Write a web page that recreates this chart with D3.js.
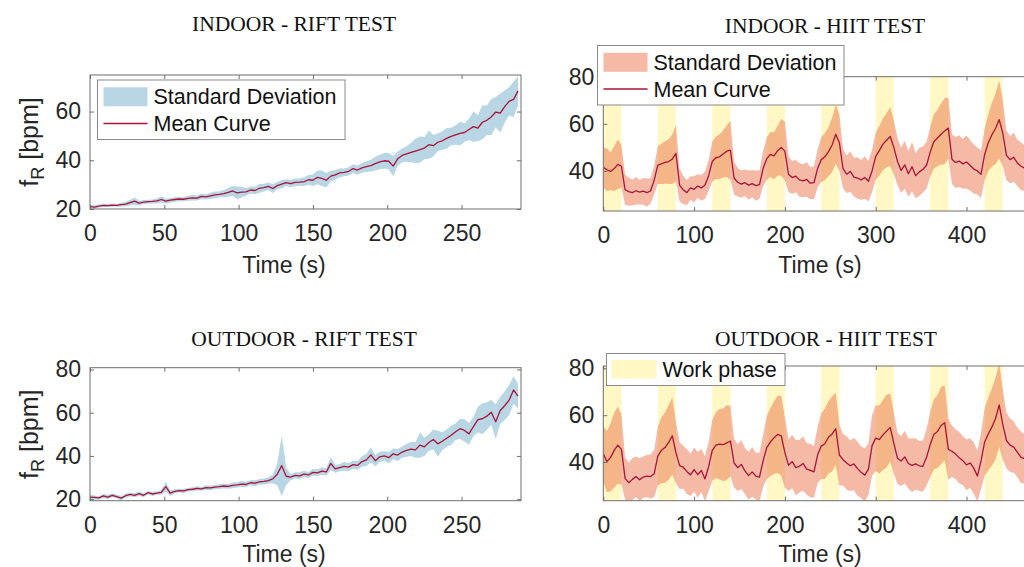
<!DOCTYPE html>
<html><head><meta charset="utf-8">
<script src="https://cdn.jsdelivr.net/npm/d3@7"></script>
<style>body{margin:0;background:#fff} svg{display:block}</style>
</head><body><svg id="chart" width="1024" height="567"></svg>
<script>
// ---------------- DATA ----------------
const titles = ["INDOOR - RIFT TEST", "INDOOR - HIIT TEST", "OUTDOOR - RIFT TEST", "OUTDOOR - HIIT TEST"];
const xLabel = "Time (s)";
const riftStep = 3;   // s between samples (rift)
const hiitStep = 4;   // s between samples (HIIT)

const riftXTicks = [0, 50, 100, 150, 200, 250];
const hiitXTicks = [0, 100, 200, 300, 400];
const indoorRiftYTicks = [20, 40, 60];
const outdoorRiftYTicks = [20, 40, 60, 80];
const hiitYTicks = [40, 60, 80];

const workPhases = [[0,20],[60,80],[120,140],[180,200],[240,260],[300,320],[360,380],[420,440]];

const indoorRiftMean = [
 21.0,20.8,21.2,21.5,21.4,21.6,21.5,21.8,22.0,22.6,
 23.2,22.4,22.8,23.0,23.1,23.3,23.9,23.2,23.6,23.9,
 24.1,24.0,24.4,24.6,24.5,25.2,25.0,25.4,25.8,26.0,
 26.3,26.8,27.4,26.6,26.9,27.0,27.8,27.6,28.5,28.8,
 29.3,28.4,29.6,30.2,30.8,30.4,30.9,31.0,31.2,32.0,
 31.8,33.0,32.6,31.8,33.5,34.0,34.8,35.0,35.4,36.6,
 36.0,36.9,37.4,37.8,38.6,39.3,39.8,39.6,37.6,40.6,
 42.0,42.6,43.2,43.8,44.4,45.0,46.4,46.0,47.4,48.0,
 49.0,49.8,50.4,51.0,51.4,52.6,53.8,53.2,55.6,56.4,
 57.8,59.8,59.4,62.0,64.2,65.0,68.5];
const indoorRiftSD = [
 0.8,0.7,0.6,0.7,0.6,0.7,0.6,0.8,0.9,1.2,
 1.5,1.0,0.9,0.8,0.8,1.0,1.3,1.0,0.9,0.9,
 0.9,0.8,1.0,1.1,1.0,1.2,1.1,1.3,1.4,1.2,
 1.5,1.8,2.0,2.6,2.2,1.6,1.4,1.5,1.8,1.6,
 1.6,1.8,1.5,1.7,1.4,1.5,1.6,1.5,1.8,2.0,
 2.4,2.8,3.2,3.0,2.2,2.0,1.8,1.6,1.7,1.8,
 1.9,2.0,2.2,2.4,2.8,3.0,3.2,3.4,4.2,3.0,
 2.8,3.2,4.0,5.0,5.4,4.6,5.8,4.4,3.6,3.8,
 4.2,3.6,4.0,4.8,3.8,4.4,6.2,5.4,7.0,6.0,
 7.4,6.2,8.0,6.6,5.8,7.2,6.0];

const outdoorRiftMean = [
 21.0,20.8,20.6,21.5,21.0,21.8,21.2,20.5,21.6,22.2,
 21.8,22.6,21.8,23.0,22.4,22.8,23.2,25.8,22.8,23.6,
 24.0,23.8,24.4,24.6,25.0,24.8,25.3,25.2,25.6,25.8,
 26.1,25.9,26.4,26.6,27.0,26.8,27.6,27.4,28.0,28.2,
 28.6,29.4,31.5,35.5,30.6,30.2,31.0,30.8,31.6,31.2,
 32.4,32.2,33.0,32.6,36.5,34.0,34.6,35.2,34.8,36.0,
 35.6,37.4,38.2,40.5,37.8,39.6,40.0,39.2,41.0,40.4,
 41.8,42.6,43.2,42.8,45.0,44.2,46.2,47.6,45.6,46.8,
 48.2,49.6,51.2,52.6,51.8,50.2,53.6,56.8,57.2,58.4,
 60.2,55.8,61.0,63.2,65.8,70.5,67.6];
const outdoorRiftSD = [
 1.2,0.9,0.8,0.9,1.0,0.9,0.8,1.0,0.9,0.8,
 0.9,1.0,0.9,0.8,0.9,0.8,1.0,2.4,1.2,0.9,
 0.8,0.9,0.8,0.9,1.0,0.9,1.0,1.1,1.0,1.1,
 1.2,1.1,1.3,1.2,1.4,1.3,1.2,1.4,1.3,1.4,
 1.5,2.0,5.0,14.0,4.0,1.5,1.4,1.6,1.5,1.4,
 1.6,1.5,1.7,1.8,3.0,1.8,1.7,2.0,1.8,1.9,
 2.0,2.4,2.8,3.5,2.6,2.4,2.2,2.6,2.4,2.8,
 2.6,3.0,3.2,3.6,5.8,4.2,3.8,4.6,6.0,4.2,
 4.0,4.4,3.8,4.6,5.2,5.0,4.4,6.0,7.2,6.4,
 5.8,8.0,6.2,6.6,7.0,6.4,5.8];

const indoorHiitMean = [
 41.5,40.5,39.8,41.0,42.8,42.0, 32.0,31.2,30.8,31.6,31.0,31.4,30.8,31.5,36.0,
 42.5,43.0,43.6,44.0,45.0,47.5, 34.0,32.0,30.8,32.8,32.2,33.6,32.8,34.0,38.0,
 44.0,45.6,46.0,47.2,48.4,48.8, 37.0,35.2,34.4,35.0,34.0,34.6,33.8,34.2,41.0,
 45.2,47.0,46.4,48.6,50.0,48.4, 38.6,37.2,37.8,36.2,35.8,36.4,34.8,35.0,41.0,
 44.8,46.0,48.2,51.0,55.6,52.0, 41.0,38.6,39.8,37.4,37.0,36.2,37.2,35.6,40.0,
 46.2,48.6,51.4,53.0,54.6,50.0, 44.0,40.2,42.6,38.8,41.8,38.0,39.6,40.6,42.4,
 48.0,52.4,54.0,55.6,57.0,58.2, 45.0,43.6,44.2,43.0,43.8,42.4,40.8,40.0,38.6,
 47.0,52.0,55.4,58.0,61.8,56.0, 46.6,44.8,45.8,43.4,42.0,41.2,41.8,40.6,41.0];
const indoorHiitSD = [
 8.5,9.0,8.0,9.5,10.5,9.0, 6.5,6.0,5.5,5.8,5.2,5.6,6.0,5.4,6.0,
 8.0,8.5,9.0,9.5,10.5,12.0, 7.0,6.0,5.4,5.0,5.6,5.0,5.4,5.8,6.5,
 8.5,9.0,9.5,10.0,11.0,12.5, 7.0,6.0,5.8,5.6,6.2,5.8,6.4,6.0,7.5,
 9.0,9.5,10.0,10.5,12.0,12.5, 7.5,7.0,6.8,7.2,7.0,7.4,6.8,7.0,8.0,
 9.5,10.0,10.5,11.5,12.5,12.0, 8.5,8.0,8.6,8.2,8.8,8.4,9.0,8.6,9.0,
 10.0,10.5,11.0,11.5,12.5,11.5, 10.0,9.6,10.2,9.8,10.4,9.6,10.2,9.8,10.0,
 10.5,11.5,12.0,13.0,14.0,13.0, 10.5,10.8,11.0,10.6,11.2,10.8,10.4,10.0,10.2,
 11.0,12.0,13.5,15.0,16.5,14.0, 10.5,10.0,10.4,9.8,10.2,9.6,9.8,10.0,9.6];

const outdoorHiitMean = [
 43.5,40.2,42.0,45.0,47.2,45.4, 33.0,31.2,32.6,33.8,32.4,33.6,34.0,33.8,35.0,
 42.5,45.0,46.2,48.4,51.2,44.0, 38.5,37.8,36.0,34.5,36.8,34.6,36.4,32.8,38.0,
 45.0,47.2,47.6,47.4,48.2,49.0, 39.6,37.6,39.0,36.2,34.2,35.8,34.0,33.6,40.5,
 46.2,48.5,50.4,51.8,51.2,44.0, 38.6,40.2,37.6,38.2,39.4,37.0,36.4,35.8,43.0,
 46.8,47.8,50.6,52.0,54.2,43.0, 41.0,39.6,38.4,39.2,37.2,35.6,34.4,37.0,47.0,
 50.2,49.6,51.6,53.2,54.8,48.0, 41.6,40.4,42.2,39.4,38.6,39.2,38.4,38.2,42.0,
 47.4,51.8,53.0,55.6,56.8,45.4, 44.6,43.4,41.8,40.6,38.8,39.6,37.4,34.0,40.5,
 48.6,52.0,55.0,58.6,64.4,56.0, 49.2,47.2,46.4,44.2,42.0,41.4,42.2,40.8,41.2];
const outdoorHiitSD = [
 12.0,13.0,14.5,16.0,16.5,15.0, 9.0,8.5,9.0,8.6,9.2,8.8,9.0,9.4,10.0,
 12.5,14.0,15.0,16.0,16.5,13.0, 10.0,9.2,9.6,9.0,9.4,9.8,9.2,9.6,10.5,
 13.0,14.0,15.0,15.5,16.0,15.0, 10.5,10.0,10.4,9.8,10.2,10.6,10.0,10.4,11.0,
 13.5,14.5,15.5,16.5,17.0,15.0, 11.0,11.4,11.8,11.2,11.6,11.0,11.4,11.0,12.0,
 14.0,15.0,15.5,16.0,15.5,13.0, 11.0,11.4,10.8,11.2,11.6,11.0,11.4,11.0,13.0,
 14.0,14.5,15.0,15.5,14.5,13.0, 11.0,10.6,11.2,10.8,11.4,11.0,10.6,11.0,12.0,
 14.0,15.0,15.5,16.5,16.0,13.0, 11.0,10.6,11.0,10.4,10.8,10.6,11.0,10.8,12.0,
 14.5,15.5,16.5,17.5,18.0,15.0, 12.0,11.4,11.0,10.6,11.0,10.4,10.8,10.6,10.4];

// ---------------- STYLE ----------------
const meanColor = "#a8143a";
const blueBand = "#b8d6e3";
const salmonBand = "rgb(235,110,70)";
const salmonOpacity = 0.48;
const workColor = "rgb(255,248,196)";
const axisColor = "#6e6e6e";
const textColor = "#262626";
const sansFont = "'Liberation Sans', Arial, Helvetica, sans-serif";
const serifFont = "'Liberation Serif', 'Times New Roman', serif";

const panels = [
 {id:0, title:titles[0], left:90, right:521, top:75, bottom:209, xDomain:[0,290], yDomain:[20,75],
  xTicks:riftXTicks, yTicks:indoorRiftYTicks, mean:indoorRiftMean, sd:indoorRiftSD, step:riftStep,
  band:blueBand, bandOp:1, phases:false, titleX:294, titleY:30.5, xlabX:284, xlabY:273, ylabel:true,
  legend:{type:"sd", x:97.5, y:80, w:247.5, h:59.5}},
 {id:1, title:titles[1], left:603.3, right:603.3+480*0.908, top:76.7, bottom:211, xDomain:[0,480], yDomain:[23,80],
  xTicks:hiitXTicks, yTicks:hiitYTicks, mean:indoorHiitMean, sd:indoorHiitSD, step:hiitStep,
  band:salmonBand, bandOp:salmonOpacity, phases:true, titleX:825, titleY:33, xlabX:820, xlabY:273, ylabel:false,
  legend:{type:"sd", x:597.5, y:45.5, w:246.5, h:59.5}},
 {id:2, title:titles[2], left:90, right:521, top:367.7, bottom:500.7, xDomain:[0,290], yDomain:[19.3,80.8],
  xTicks:riftXTicks, yTicks:outdoorRiftYTicks, mean:outdoorRiftMean, sd:outdoorRiftSD, step:riftStep,
  band:blueBand, bandOp:1, phases:false, titleX:304, titleY:345.5, xlabX:284, xlabY:561.5, ylabel:true,
  legend:null},
 {id:3, title:titles[3], left:603.3, right:603.3+480*0.908, top:366, bottom:500.7, xDomain:[0,480], yDomain:[23.5,81],
  xTicks:hiitXTicks, yTicks:hiitYTicks, mean:outdoorHiitMean, sd:outdoorHiitSD, step:hiitStep,
  band:salmonBand, bandOp:salmonOpacity, phases:true, titleX:826, titleY:345.5, xlabX:820, xlabY:561.5, ylabel:false,
  legend:{type:"work", x:606.5, y:353.5, w:178.5, h:32}}
];

const svg = d3.select("#chart");
const defs = svg.append("defs");

function drawPanel(p) {
  const g = svg.append("g");
  const x = d3.scaleLinear().domain(p.xDomain).range([p.left, p.right]);
  const y = d3.scaleLinear().domain(p.yDomain).range([p.bottom, p.top]);
  const clipId = "clip" + p.id;
  defs.append("clipPath").attr("id", clipId).append("rect")
    .attr("x", p.left).attr("y", p.top).attr("width", p.right - p.left).attr("height", p.bottom - p.top);
  const plot = g.append("g").attr("clip-path", `url(#${clipId})`);

  if (p.phases) {
    plot.selectAll("rect.wp").data(workPhases).join("rect").attr("class", "wp")
      .attr("x", d => x(d[0])).attr("width", d => x(d[1]) - x(d[0]))
      .attr("y", p.top).attr("height", p.bottom - p.top).attr("fill", workColor);
  }
  const data = p.mean.map((m, i) => ({t: i * p.step, m: m, s: p.sd[i]}));
  plot.append("path").datum(data)
    .attr("d", d3.area().x(d => x(d.t)).y0(d => y(d.m - d.s)).y1(d => y(d.m + d.s)))
    .attr("fill", p.band).attr("fill-opacity", p.bandOp);
  plot.append("path").datum(data)
    .attr("d", d3.line().x(d => x(d.t)).y(d => y(d.m)))
    .attr("fill", "none").attr("stroke", meanColor).attr("stroke-width", 1.3).attr("stroke-linejoin", "round");

  // axes
  const styleAxis = sel => {
    sel.select(".domain").remove();
    sel.selectAll(".tick line").attr("stroke", axisColor);
    sel.selectAll(".tick text").attr("fill", textColor).attr("font-size", 23).attr("font-family", sansFont);
  };
  g.append("g").attr("transform", `translate(0,${p.bottom})`)
    .call(d3.axisBottom(x).tickValues(p.xTicks).tickSizeInner(-4).tickSizeOuter(0).tickPadding(16).tickFormat(d3.format("d")))
    .call(styleAxis);
  g.append("g").attr("transform", `translate(0,${p.top})`)
    .call(d3.axisTop(x).tickValues(p.xTicks).tickSizeInner(-4).tickSizeOuter(0).tickFormat(""))
    .call(styleAxis);
  g.append("g").attr("transform", `translate(${p.left},0)`)
    .call(d3.axisLeft(y).tickValues(p.yTicks).tickSizeInner(-4).tickSizeOuter(0).tickPadding(9).tickFormat(d3.format("d")))
    .call(styleAxis);
  g.append("g").attr("transform", `translate(${p.right},0)`)
    .call(d3.axisRight(y).tickValues(p.yTicks).tickSizeInner(-4).tickSizeOuter(0).tickFormat(""))
    .call(styleAxis);
  g.append("rect").attr("x", p.left).attr("y", p.top).attr("width", p.right - p.left).attr("height", p.bottom - p.top)
    .attr("fill", "none").attr("stroke", axisColor).attr("stroke-width", 1);

  // title
  g.append("text").attr("x", p.titleX).attr("y", p.titleY).attr("text-anchor", "middle")
    .attr("font-family", serifFont).attr("font-size", 21.5).attr("fill", "#111").text(p.title);
  // x label
  g.append("text").attr("x", p.xlabX).attr("y", p.xlabY).attr("text-anchor", "middle")
    .attr("font-family", sansFont).attr("font-size", 23).attr("fill", textColor).text(xLabel);
  // y label
  if (p.ylabel) {
    const cy = (p.top + p.bottom) / 2;
    const t = g.append("text").attr("transform", `translate(38,${cy}) rotate(-90)`).attr("text-anchor", "middle")
      .attr("font-family", sansFont).attr("font-size", 25).attr("fill", textColor);
    t.append("tspan").text("f");
    t.append("tspan").attr("font-size", 18).attr("dy", 6).text("R");
    t.append("tspan").attr("dy", -6).text(" [bpm]");
  }

  // legend
  if (p.legend) {
    const L = p.legend;
    const lg = svg.append("g");
    lg.append("rect").attr("x", L.x).attr("y", L.y).attr("width", L.w).attr("height", L.h)
      .attr("fill", "#fff").attr("stroke", "#8a8a8a").attr("stroke-width", 1);
    if (L.type === "sd") {
      lg.append("rect").attr("x", L.x + 6).attr("y", L.y + 7.3).attr("width", 44).attr("height", 19)
        .attr("fill", p.band).attr("fill-opacity", p.bandOp);
      lg.append("text").attr("x", L.x + 56).attr("y", L.y + 24.2).attr("font-family", sansFont)
        .attr("font-size", 21.5).attr("fill", "#111").text("Standard Deviation");
      lg.append("line").attr("x1", L.x + 6).attr("x2", L.x + 50).attr("y1", L.y + 43.5).attr("y2", L.y + 43.5)
        .attr("stroke", meanColor).attr("stroke-width", 1.3);
      lg.append("text").attr("x", L.x + 56).attr("y", L.y + 51.2).attr("font-family", sansFont)
        .attr("font-size", 21.5).attr("fill", "#111").text("Mean Curve");
    } else {
      lg.append("rect").attr("x", L.x + 5).attr("y", L.y + 6.5).attr("width", 45).attr("height", 18.5)
        .attr("fill", workColor);
      lg.append("text").attr("x", L.x + 56).attr("y", L.y + 23.8).attr("font-family", sansFont)
        .attr("font-size", 21.5).attr("fill", "#111").text("Work phase");
    }
  }
}

panels.forEach(drawPanel);
</script>
</body></html>
